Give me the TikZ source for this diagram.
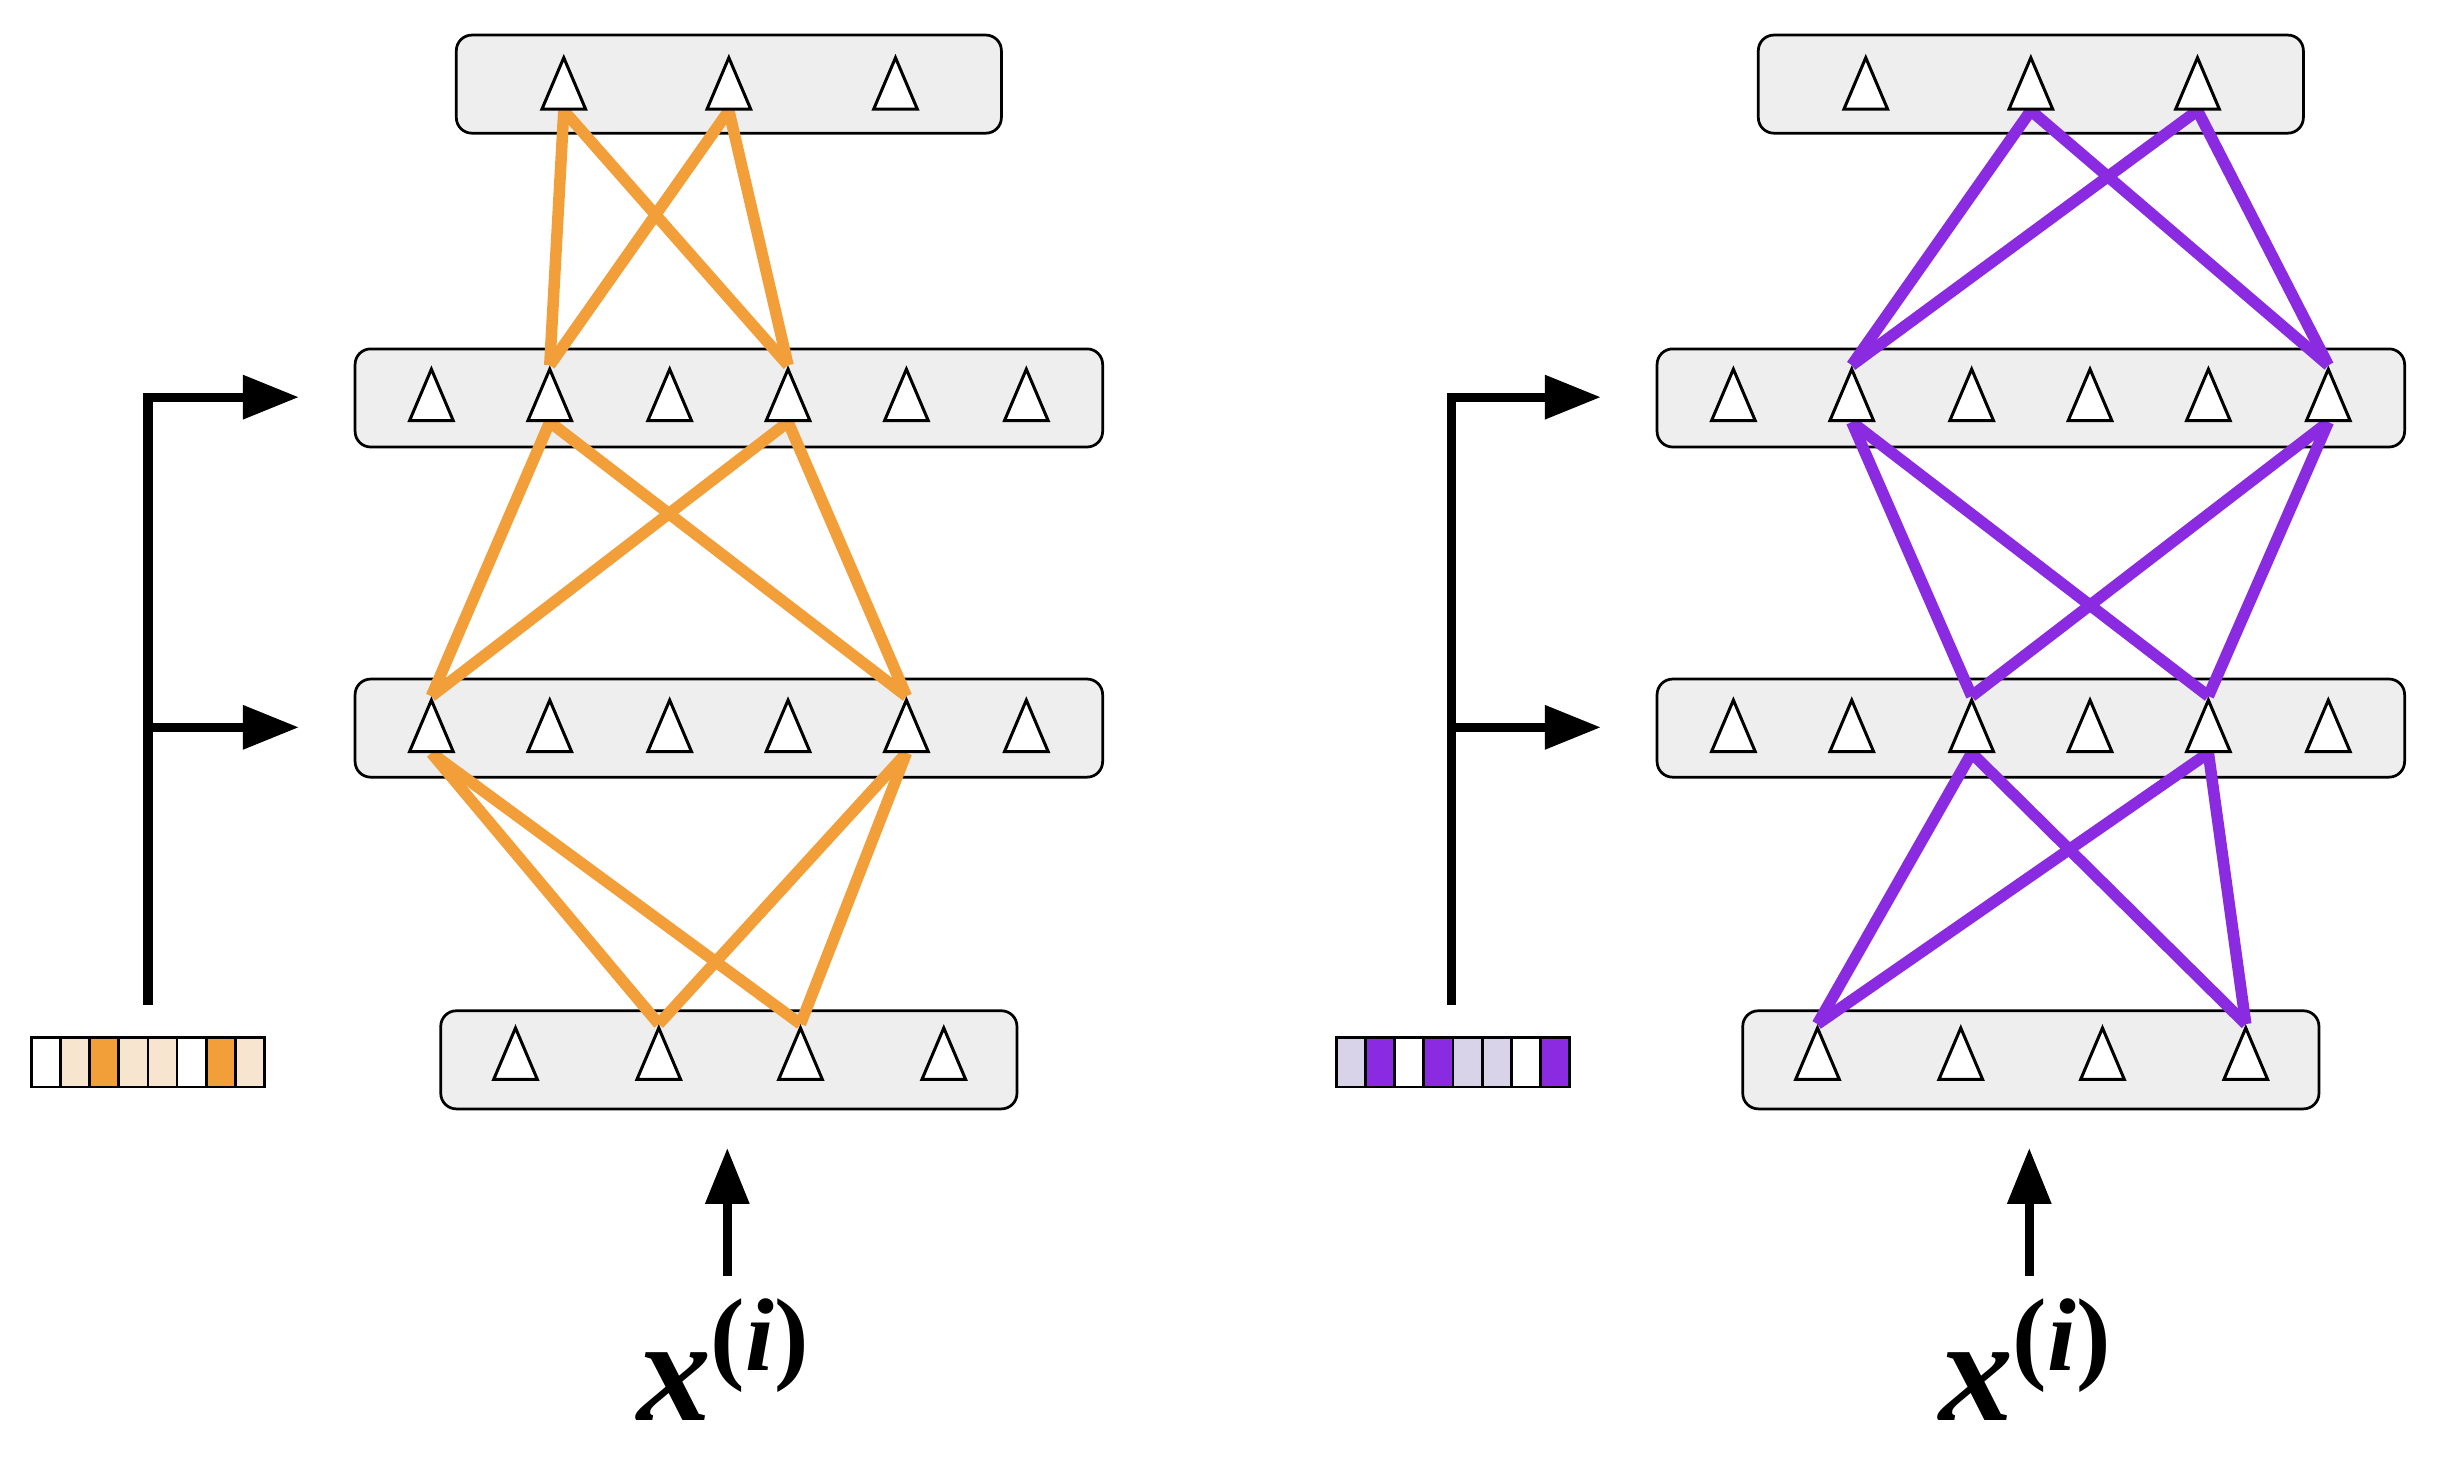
\documentclass[tikz,border=0pt]{standalone}
\usepackage{fontspec}
\setmainfont{Liberation Serif}
\usepackage{tikz}
\usetikzlibrary{shapes.geometric, arrows.meta, positioning, calc}

\definecolor{boxgray}{HTML}{EEEEEE}
\definecolor{netorange}{HTML}{F29F3A}
\definecolor{paleorange}{HTML}{F8E5D0}
\definecolor{netpurple}{HTML}{8A2BE2}
\definecolor{palepurple}{HTML}{D8D3E8}

\pgfdeclarelayer{boxes}
\pgfdeclarelayer{edges}
\pgfsetlayers{boxes,edges,main}

\begin{document}
\begin{tikzpicture}[x=0.1mm, y=-0.1mm,
		layerbox/.style={draw, rectangle, rounded corners=1mm, fill=boxgray, line width=0.5pt, minimum height=6.3mm, inner sep=0pt},
		unit/.style={draw, fill=white, isosceles triangle, isosceles triangle stretches, shape border rotate=90, minimum width=2.8mm, minimum height=3.3mm, inner sep=0pt, line width=0.55pt, anchor=lower side},
		oedge/.style={draw=netorange, line width=2.1pt},
		pedge/.style={draw=netpurple, line width=2.1pt},
		bit/.style={draw, rectangle, line width=0.5pt, minimum width=1.875mm, minimum height=3.2mm, inner sep=0pt},
		feed/.style={-{Triangle[length=3.6mm, width=2.7mm]}, line width=1.7pt},
		xlabel/.style={font=\fontsize{27}{30}\selectfont\bfseries\itshape, anchor=base, inner sep=0pt}]
	\useasboundingbox (0,0) rectangle (1568,939);

	% left network
	\begin{pgfonlayer}{boxes}
		\node[layerbox, minimum width=35mm] (lA) at (468, 54) {};
		\node[layerbox, minimum width=48mm] (lB) at (468, 255.5) {};
		\node[layerbox, minimum width=48mm] (lC) at (468, 467.5) {};
		\node[layerbox, minimum width=37mm] (lD) at (468, 680.5) {};
	\end{pgfonlayer}

	\node[unit] (la1) at (362, 71) {};
	\node[unit] (la2) at (468, 71) {};
	\node[unit] (la3) at (575, 71) {};

	\node[unit] (lb1) at (277, 271) {};
	\node[unit] (lb2) at (353, 271) {};
	\node[unit] (lb3) at (430, 271) {};
	\node[unit] (lb4) at (506, 271) {};
	\node[unit] (lb5) at (582, 271) {};
	\node[unit] (lb6) at (659, 271) {};

	\node[unit] (lc1) at (277, 483.5) {};
	\node[unit] (lc2) at (353, 483.5) {};
	\node[unit] (lc3) at (430, 483.5) {};
	\node[unit] (lc4) at (506, 483.5) {};
	\node[unit] (lc5) at (582, 483.5) {};
	\node[unit] (lc6) at (659, 483.5) {};

	\node[unit] (ld1) at (331, 694) {};
	\node[unit] (ld2) at (423, 694) {};
	\node[unit] (ld3) at (514, 694) {};
	\node[unit] (ld4) at (606, 694) {};

	\begin{pgfonlayer}{edges}
		\draw[oedge] (ld2.apex) -- (lc1.lower side);
		\draw[oedge] (ld2.apex) -- (lc5.lower side);
		\draw[oedge] (ld3.apex) -- (lc1.lower side);
		\draw[oedge] (ld3.apex) -- (lc5.lower side);
		\draw[oedge] (lc1.apex) -- (lb2.lower side);
		\draw[oedge] (lc1.apex) -- (lb4.lower side);
		\draw[oedge] (lc5.apex) -- (lb2.lower side);
		\draw[oedge] (lc5.apex) -- (lb4.lower side);
		\draw[oedge] (lb2.apex) -- (la1.lower side);
		\draw[oedge] (lb2.apex) -- (la2.lower side);
		\draw[oedge] (lb4.apex) -- (la1.lower side);
		\draw[oedge] (lb4.apex) -- (la2.lower side);
	\end{pgfonlayer}

	\node[bit, fill=white] (lbit1) at (29.4, 682) {};
	\node[bit, fill=paleorange] (lbit2) at (48.1, 682) {};
	\node[bit, fill=netorange] (lbit3) at (66.9, 682) {};
	\node[bit, fill=paleorange] (lbit4) at (85.6, 682) {};
	\node[bit, fill=paleorange] (lbit5) at (104.4, 682) {};
	\node[bit, fill=white] (lbit6) at (123.1, 682) {};
	\node[bit, fill=netorange] (lbit7) at (141.9, 682) {};
	\node[bit, fill=paleorange] (lbit8) at (160.6, 682) {};

	\coordinate (lstem) at (95, 645);
	\coordinate (lfork) at (95, 467);
	\coordinate (lto2) at (192, 255);
	\coordinate (lto1) at (192, 467);
	\draw[feed] (lstem) |- (lto2);
	\draw[feed] (lfork) -- (lto1);

	\coordinate (lxin) at (467, 819);
	\coordinate (lxto) at (467, 737);
	\draw[feed] (lxin) -- (lxto);
	\node[xlabel] (lx) at (465, 912) {x\textsuperscript{\upshape(\itshape i\upshape)}};

	% right network
	\begin{pgfonlayer}{boxes}
		\node[layerbox, minimum width=35mm] (rA) at (1304, 54) {};
		\node[layerbox, minimum width=48mm] (rB) at (1304, 255.5) {};
		\node[layerbox, minimum width=48mm] (rC) at (1304, 467.5) {};
		\node[layerbox, minimum width=37mm] (rD) at (1304, 680.5) {};
	\end{pgfonlayer}

	\node[unit] (ra1) at (1198, 71) {};
	\node[unit] (ra2) at (1304, 71) {};
	\node[unit] (ra3) at (1411, 71) {};

	\node[unit] (rb1) at (1113, 271) {};
	\node[unit] (rb2) at (1189, 271) {};
	\node[unit] (rb3) at (1266, 271) {};
	\node[unit] (rb4) at (1342, 271) {};
	\node[unit] (rb5) at (1418, 271) {};
	\node[unit] (rb6) at (1495, 271) {};

	\node[unit] (rc1) at (1113, 483.5) {};
	\node[unit] (rc2) at (1189, 483.5) {};
	\node[unit] (rc3) at (1266, 483.5) {};
	\node[unit] (rc4) at (1342, 483.5) {};
	\node[unit] (rc5) at (1418, 483.5) {};
	\node[unit] (rc6) at (1495, 483.5) {};

	\node[unit] (rd1) at (1167, 694) {};
	\node[unit] (rd2) at (1259, 694) {};
	\node[unit] (rd3) at (1350, 694) {};
	\node[unit] (rd4) at (1442, 694) {};

	\begin{pgfonlayer}{edges}
		\draw[pedge] (rd1.apex) -- (rc3.lower side);
		\draw[pedge] (rd1.apex) -- (rc5.lower side);
		\draw[pedge] (rd4.apex) -- (rc3.lower side);
		\draw[pedge] (rd4.apex) -- (rc5.lower side);
		\draw[pedge] (rc3.apex) -- (rb2.lower side);
		\draw[pedge] (rc3.apex) -- (rb6.lower side);
		\draw[pedge] (rc5.apex) -- (rb2.lower side);
		\draw[pedge] (rc5.apex) -- (rb6.lower side);
		\draw[pedge] (rb2.apex) -- (ra2.lower side);
		\draw[pedge] (rb2.apex) -- (ra3.lower side);
		\draw[pedge] (rb6.apex) -- (ra2.lower side);
		\draw[pedge] (rb6.apex) -- (ra3.lower side);
	\end{pgfonlayer}

	\node[bit, fill=palepurple] (rbit1) at (867.4, 682) {};
	\node[bit, fill=netpurple] (rbit2) at (886.1, 682) {};
	\node[bit, fill=white] (rbit3) at (904.9, 682) {};
	\node[bit, fill=netpurple] (rbit4) at (923.6, 682) {};
	\node[bit, fill=palepurple] (rbit5) at (942.4, 682) {};
	\node[bit, fill=palepurple] (rbit6) at (961.1, 682) {};
	\node[bit, fill=white] (rbit7) at (979.9, 682) {};
	\node[bit, fill=netpurple] (rbit8) at (998.6, 682) {};

	\coordinate (rstem) at (932, 645);
	\coordinate (rfork) at (932, 467);
	\coordinate (rto2) at (1028, 255);
	\coordinate (rto1) at (1028, 467);
	\draw[feed] (rstem) |- (rto2);
	\draw[feed] (rfork) -- (rto1);

	\coordinate (rxin) at (1303, 819);
	\coordinate (rxto) at (1303, 737);
	\draw[feed] (rxin) -- (rxto);
	\node[xlabel] (rx) at (1301, 912) {x\textsuperscript{\upshape(\itshape i\upshape)}};
\end{tikzpicture}
\end{document}
